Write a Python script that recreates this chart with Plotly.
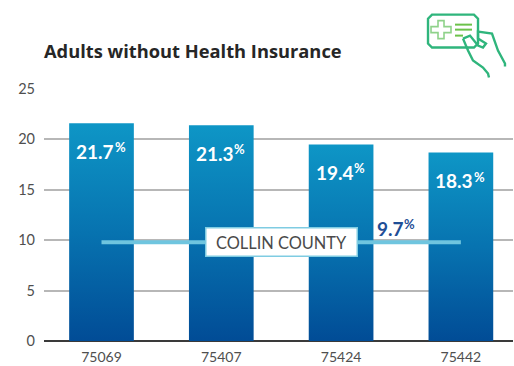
import plotly.graph_objects as go

zip_codes = ["75069", "75407", "75424", "75442"]
bar_heights = [21.6, 21.4, 19.5, 18.7]
bar_labels = ["21.7", "21.3", "19.4", "18.3"]
county_level = 9.8
county_label = "9.7"
county_name = "COLLIN COUNTY"
title_text = "Adults without Health Insurance"
y_ticks = [0, 5, 10, 15, 20, 25]

W, H = 514, 366
L, R, T, B = 44, 513, 88.5, 341


def px(x, y):
    return (x - L) / (R - L), (B - y) / (B - T)


def path(points, closed=False):
    out = []
    for i, (x, y) in enumerate(points):
        a, b = px(x, y)
        out.append(f"{'M' if i == 0 else 'L'}{a:.4f},{b:.4f}")
    return " ".join(out) + (" Z" if closed else "")


def pct_label(color, label, **where):
    shift_x = where.pop("xshift", 0)
    shift_y = where.pop("yshift", 0)
    return [
        dict(where, xshift=shift_x, yshift=shift_y, xanchor="right", text=f"<b>{label}</b>", showarrow=False,
             font=dict(family="Lato", size=19, color=color)),
        dict(where, xshift=shift_x - 3.5, yshift=shift_y + 4, xanchor="left", text="<b>%</b>", showarrow=False,
             font=dict(family="Lato", size=13, color=color)),
    ]


fig = go.Figure()
fig.add_bar(x=zip_codes, y=bar_heights, width=0.54, marker=dict(color="#0a6fae", line_width=0),
            hoverinfo="skip", showlegend=False)
fig.add_scatter(x=[zip_codes[0], zip_codes[-1]], y=[county_level, county_level], mode="lines",
                line=dict(color="#6fc5df", width=4), hoverinfo="skip", showlegend=False)

annotations = []
for i, (v, lab) in enumerate(zip(bar_heights, bar_labels)):
    annotations += pct_label("white", lab, x=i, y=v, xshift=14.5, yshift=-28)
annotations.append(dict(x=0.5, y=county_level, xref="paper", xshift=2.5, text=county_name, showarrow=False,
                        font=dict(family="Lato", size=16.4, color="#4a4a4a"),
                        bgcolor="white", bordercolor="#7fcce2", borderwidth=1.5,
                        width=148, height=25, xanchor="center", yanchor="middle"))
annotations += pct_label("#1f4e96", county_label, x=0.5, y=county_level, xref="paper", xshift=127, yshift=14)
annotations.append(dict(x=0, y=1, xref="paper", yref="paper", xanchor="left", yanchor="middle",
                        xshift=-2, yshift=38.5, text=f"<b>{title_text}</b>", showarrow=False,
                        font=dict(family="Open Sans", size=18.3, color="#262626")))

green = "#2fb57c"
light = "#8fd28a"
icon_style = dict(type="path", xref="paper", yref="paper", layer="above")
shapes = [
    dict(icon_style, path=path([(432, 14), (474, 14), (478, 18), (478, 43), (474, 47), (432, 47), (428, 43), (428, 18)], True),
         line=dict(color=green, width=2.4)),
    dict(icon_style, path=path([(431, 26), (438, 26), (438, 20), (444, 20), (444, 26), (451, 26), (451, 32),
                                (444, 32), (444, 38), (438, 38), (438, 32), (431, 32)], True),
         line=dict(color=light, width=1.6)),
    dict(icon_style, path=path([(455, 24), (472, 24)]), line=dict(color="#6cc24a", width=2)),
    dict(icon_style, path=path([(455, 29), (472, 29)]), line=dict(color="#6cc24a", width=2)),
    dict(icon_style, path=path([(455, 35), (463, 35)]), line=dict(color="#6cc24a", width=2)),
    dict(icon_style, path=path([(463, 38), (470, 35), (478, 45), (483, 47), (486, 43), (478, 38), (478, 31), (492, 33),
                                (498, 50), (505, 63), (505, 66)]), line=dict(color=green, width=2.4)),
    dict(icon_style, path=path([(463, 38), (468, 50), (473, 60), (483, 67), (488, 73), (489, 77)]),
         line=dict(color=green, width=2.4)),
]

fig.update_layout(
    width=W, height=H, autosize=False, margin=dict(l=L, r=W - R, t=T, b=H - B),
    paper_bgcolor="white", plot_bgcolor="white", showlegend=False,
    annotations=annotations, shapes=shapes,
    font=dict(family="Lato", color="#555555"),
    xaxis=dict(type="category", range=[-0.48, 3.435], showgrid=False, ticks="", showline=False, zeroline=False,
               ticklabelstandoff=6, tickfont=dict(family="Lato", size=14, color="#4f4f4f"), fixedrange=True),
    yaxis=dict(range=[0, 25], tickvals=y_ticks, showgrid=True, gridcolor="#b7b7b7", gridwidth=2,
               zeroline=True, zerolinecolor="#3a3a3a", zerolinewidth=2, ticks="", ticklabelstandoff=8,
               tickfont=dict(family="Lato", size=14.5, color="#4f4f4f"), fixedrange=True),
)

post = """
document.documentElement.style.margin = '0';
document.body.style.margin = '0';
var gd = document.getElementById('{plot_id}');
var svg = gd.querySelector('.main-svg');
var ns = 'http://www.w3.org/2000/svg';
var defs = svg.querySelector('defs') || svg.insertBefore(document.createElementNS(ns, 'defs'), svg.firstChild);
var g = document.createElementNS(ns, 'linearGradient');
g.setAttribute('id', 'barfade'); g.setAttribute('x1', '0'); g.setAttribute('y1', '0');
g.setAttribute('x2', '0'); g.setAttribute('y2', '1');
[['0', '#0e96c6'], ['0.5', '#0773b0'], ['1', '#014c96']].forEach(function (s) {
  var e = document.createElementNS(ns, 'stop');
  e.setAttribute('offset', s[0]); e.setAttribute('stop-color', s[1]); g.appendChild(e);
});
defs.appendChild(g);
gd.querySelectorAll('.bars .point path').forEach(function (p) { p.style.fill = 'url(#barfade)'; });
"""

fig.write_html("out.html", post_script=post, config={"displayModeBar": False})
